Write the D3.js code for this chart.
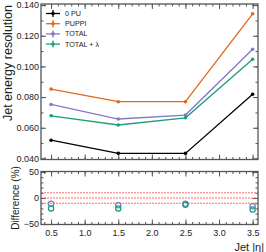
<!DOCTYPE html>
<meta charset="utf-8">
<style>
  body { margin: 0; background: #fff; }
  svg { font-family: "Liberation Sans", Arial, sans-serif; }
  .frame { fill: none; stroke: #555; stroke-width: 1.3; }
  .tick line { stroke: #555; }
  .domain { display: none; }
</style>
<div id="chart"></div>
<script src="https://cdn.jsdelivr.net/npm/d3@7"></script>
<script>

// data
var etaBins = [0.5, 1.5, 2.5, 3.5];
var seriesNames = ["0 PU", "PUPPI", "TOTAL", "TOTAL + \u03bb"];
var pu0 = [0.0519, 0.0433, 0.0433, 0.0818];
var puppi = [0.0852, 0.0770, 0.0770, 0.1343];
var total = [0.0752, 0.0657, 0.0683, 0.1112];
var totalLambda = [0.0678, 0.0618, 0.0665, 0.1047];
// difference w.r.t. PUPPI (%)
var diffTotal = [-11, -14, -11, -16];
var diffTotalLambda = [-20, -20, -13, -22];
var refLines = [10, 0, -10];
var mainTicks = [0.040, 0.060, 0.080, 0.100, 0.120, 0.140];
var diffTicks = [-50, 0, 50];
var xTicks = [0.5, 1.0, 1.5, 2.0, 2.5, 3.0, 3.5];

var colors = ["#000000", "#e2681a", "#8478c8", "#1f9e7a"];

var width = 266, height = 252;
var left = 41, right = 258;

var svg = d3.select("#chart").append("svg")
    .attr("width", width)
    .attr("height", height);

var x = d3.scaleLinear().domain([0.35, 3.58]).range([left, right]);
var y = d3.scaleLinear().domain([0.0393, 0.1407]).range([159.5, 4]);
var yd = d3.scaleLinear().domain([-51, 51]).range([224.5, 171.5]);

function frame(top, bottom) {
  svg.append("rect").attr("class", "frame")
    .attr("x", left).attr("y", top)
    .attr("width", right - left).attr("height", bottom - top);
}

function xAxes(yscale, labels) {
  var top = yscale.range()[1], bottom = yscale.range()[0];
  var minor = d3.range(0.4, 3.58, 0.1);
  [[d3.axisBottom, bottom, 1], [d3.axisTop, top, -1]].forEach(function(a) {
    svg.append("g").attr("transform", "translate(0," + a[1] + ")")
      .call(a[0](x).tickValues(minor).tickSize(-2.5).tickFormat(""));
    var g = svg.append("g").attr("transform", "translate(0," + a[1] + ")")
      .call(a[0](x).tickValues(xTicks).tickSize(-5).tickPadding(5)
        .tickFormat(labels && a[2] == 1 ? d3.format(".1f") : ""));
    g.selectAll("text").attr("font-size", 9).attr("fill", "#222");
  });
}

function yAxes(yscale, majors, minors, fmt) {
  [[d3.axisLeft, left, true], [d3.axisRight, right, false]].forEach(function(a) {
    svg.append("g").attr("transform", "translate(" + a[1] + ",0)")
      .call(a[0](yscale).tickValues(minors).tickSize(-2.5).tickFormat(""));
    var g = svg.append("g").attr("transform", "translate(" + a[1] + ",0)")
      .call(a[0](yscale).tickValues(majors).tickSize(-5).tickPadding(2)
        .tickFormat(a[2] ? fmt : ""));
    g.selectAll("text").attr("font-size", 9).attr("fill", "#222");
  });
}

// ---- main panel
yAxes(y, mainTicks, d3.range(0.04, 0.1405, 0.01), d3.format(".3f"));
xAxes(y, false);

var series = [pu0, puppi, total, totalLambda];
var line = d3.line()
    .x(function(d, i) { return x(etaBins[i]); })
    .y(function(d) { return y(d); });

series.forEach(function(s, k) {
  svg.append("path")
    .attr("d", line(s))
    .attr("fill", "none")
    .attr("stroke", colors[k])
    .attr("stroke-width", 1.3);
  svg.selectAll(null).data(s).enter().append("circle")
    .attr("cx", function(d, i) { return x(etaBins[i]); })
    .attr("cy", function(d) { return y(d); })
    .attr("r", 1.8)
    .attr("fill", colors[k]);
});

frame(4, 159.5);

// legend
var legend = svg.append("g").selectAll("g")
  .data(seriesNames).enter().append("g")
    .attr("transform", function(d, i) { return "translate(53," + (13.5 + i * 10.2) + ")"; });
legend.append("line").attr("x1", -7).attr("x2", 7)
  .attr("stroke", function(d, i) { return colors[i]; }).attr("stroke-width", 1.3);
legend.append("line").attr("y1", -3.5).attr("y2", 3.5)
  .attr("stroke", function(d, i) { return colors[i]; }).attr("stroke-width", 1.3);
legend.append("circle").attr("r", 1.8)
  .attr("fill", function(d, i) { return colors[i]; });
legend.append("text")
  .attr("x", 12).attr("dy", "0.35em")
  .attr("font-size", 7.2).attr("fill", "#222")
  .text(function(d) { return d; });

svg.append("text")
  .attr("transform", "translate(12,5)rotate(-90)")
  .attr("text-anchor", "end")
  .attr("font-size", 12.5).attr("fill", "#222")
  .text("Jet energy resolution");

// ---- ratio panel
yAxes(yd, diffTicks, d3.range(-50, 51, 10), d3.format("d"));
xAxes(yd, true);

svg.append("g").selectAll("line")
  .data(refLines).enter().append("line")
    .attr("x1", left).attr("x2", right)
    .attr("y1", yd).attr("y2", yd)
    .attr("stroke", "#ff3b3b")
    .attr("stroke-width", 1)
    .attr("stroke-opacity", 0.75)
    .attr("stroke-dasharray", "2,1");

[[diffTotal, colors[2]], [diffTotalLambda, colors[3]]].forEach(function(p) {
  svg.selectAll(null).data(p[0]).enter().append("circle")
    .attr("cx", function(d, i) { return x(etaBins[i]); })
    .attr("cy", function(d) { return yd(d); })
    .attr("r", 2.6)
    .attr("fill", "none")
    .attr("stroke", p[1])
    .attr("stroke-width", 1.3);
});

frame(171.5, 224.5);

svg.append("text")
  .attr("transform", "translate(19,198)rotate(-90)")
  .attr("text-anchor", "middle")
  .attr("font-size", 10).attr("fill", "#222")
  .text("Difference (%)");

svg.append("text")
  .attr("x", 264).attr("y", 251)
  .attr("text-anchor", "end")
  .attr("font-size", 11).attr("fill", "#222")
  .text("Jet |\u03b7|");

</script>
